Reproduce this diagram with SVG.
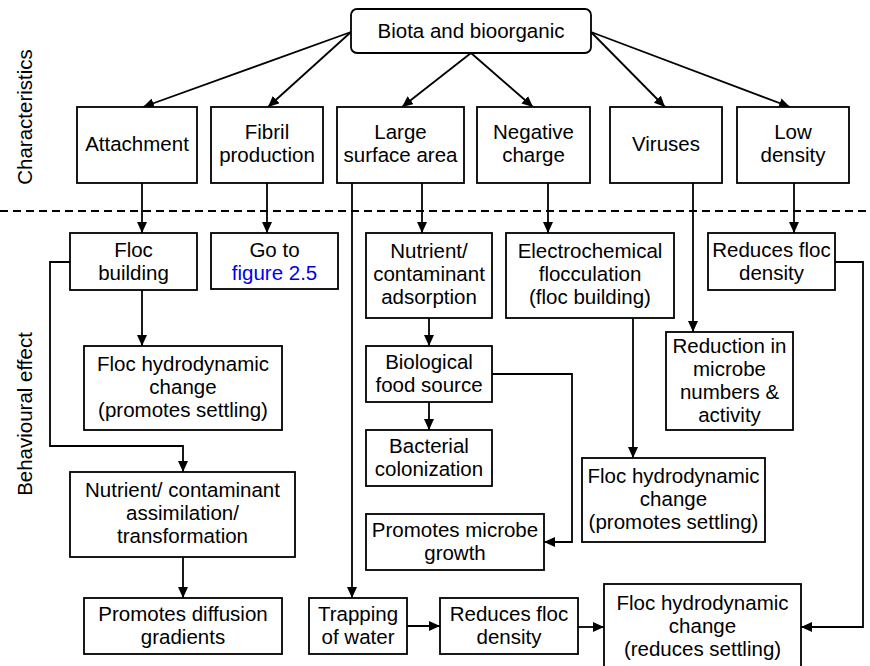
<svg xmlns="http://www.w3.org/2000/svg" width="870" height="666" viewBox="0 0 870 666">
<defs>
<marker id="ah" markerWidth="11" markerHeight="10" refX="11" refY="5" orient="auto" markerUnits="userSpaceOnUse">
<path d="M0,0 L11,5 L0,10 z" fill="#000"/>
</marker>
<style>
rect{fill:#fff;stroke:#000;stroke-width:1.8}
text{font-family:"Liberation Sans",Arial,Helvetica,sans-serif;font-size:20.5px;fill:#000;text-anchor:middle}
.c path{fill:none;stroke:#000;stroke-width:1.8;marker-end:url(#ah)}
.link{fill:#0000ee}
</style>
</defs>
<rect width="870" height="666" style="fill:#fff;stroke:none"/>
<line x1="0" y1="211" x2="870" y2="211" stroke="#000" stroke-width="2" stroke-dasharray="8,5"/>
<text transform="translate(32,117) rotate(-90)">Characteristics</text>
<text transform="translate(32,414) rotate(-90)">Behavioural effect</text>
<g class="c" id="connectors">
<path d="M351,32 L143,107"/>
<path d="M351,32 L268,107"/>
<path d="M471,53 L402,107"/>
<path d="M471,53 L533,107"/>
<path d="M591,32 L665,107"/>
<path d="M591,32 L790,107"/>
<path d="M142,183 V233"/>
<path d="M267,183 V233"/>
<path d="M352,183 V598"/>
<path d="M422,183 V233"/>
<path d="M548,183 V233"/>
<path d="M693,183 V332"/>
<path d="M794,183 V233"/>
<path d="M142,290 V346"/>
<path d="M70,262 H50 V446 H183 V472"/>
<path d="M183,557 V598"/>
<path d="M429,318 V346"/>
<path d="M429,402 V430"/>
<path d="M492,374 H572 V542 H544"/>
<path d="M633,318 V458"/>
<path d="M835,262 H863 V627 H801"/>
<path d="M407,626 H440"/>
<path d="M578,627 H604"/>
</g>
<g id="biota"><rect x="351" y="9" width="240" height="44" rx="6"/><text x="471" y="38">Biota and bioorganic</text></g>
<g id="attachment"><rect x="77" y="107" width="120" height="76"/><text x="137" y="151">Attachment</text></g>
<g id="fibril"><rect x="211" y="107" width="112" height="76"/><text x="267" y="139">Fibril</text><text x="267" y="162">production</text></g>
<g id="large"><rect x="337" y="107" width="127" height="76"/><text x="400.5" y="139">Large</text><text x="400.5" y="162">surface area</text></g>
<g id="negative"><rect x="477" y="107" width="113" height="76"/><text x="533.5" y="139">Negative</text><text x="533.5" y="162">charge</text></g>
<g id="viruses"><rect x="610" y="107" width="112" height="76"/><text x="666" y="151">Viruses</text></g>
<g id="lowdensity"><rect x="737" y="107" width="112" height="76"/><text x="793" y="139">Low</text><text x="793" y="162">density</text></g>
<g id="flocbuilding"><rect x="70" y="233" width="127" height="57"/><text x="133.5" y="257">Floc</text><text x="133.5" y="280">building</text></g>
<g id="goto"><rect x="211" y="233" width="127" height="56"/><text x="274.5" y="257">Go to</text><text x="274.5" y="280" class="link">figure 2.5</text></g>
<g id="adsorption"><rect x="366" y="233" width="126" height="85"/><text x="429" y="258">Nutrient/</text><text x="429" y="281">contaminant</text><text x="429" y="304">adsorption</text></g>
<g id="electro"><rect x="506" y="233" width="168" height="85"/><text x="590" y="258">Electrochemical</text><text x="590" y="281">flocculation</text><text x="590" y="304">(floc building)</text></g>
<g id="reduces1"><rect x="708" y="233" width="127" height="57"/><text x="771.5" y="257">Reduces floc</text><text x="771.5" y="280">density</text></g>
<g id="reduction"><rect x="666" y="332" width="127" height="98"/><text x="729.5" y="352.5">Reduction in</text><text x="729.5" y="375.5">microbe</text><text x="729.5" y="398.5">numbers &amp;</text><text x="729.5" y="421.5">activity</text></g>
<g id="flochydro1"><rect x="84" y="346" width="198" height="84"/><text x="183" y="371">Floc hydrodynamic</text><text x="183" y="394">change</text><text x="183" y="417">(promotes settling)</text></g>
<g id="biological"><rect x="366" y="346" width="126" height="56"/><text x="429" y="369">Biological</text><text x="429" y="392">food source</text></g>
<g id="bacterial"><rect x="366" y="430" width="126" height="56"/><text x="429" y="453">Bacterial</text><text x="429" y="476">colonization</text></g>
<g id="microbegrowth"><rect x="366" y="514" width="178" height="56"/><text x="455" y="537">Promotes microbe</text><text x="455" y="560">growth</text></g>
<g id="flochydro2"><rect x="582" y="458" width="183" height="84"/><text x="673.5" y="483">Floc hydrodynamic</text><text x="673.5" y="506">change</text><text x="673.5" y="529">(promotes settling)</text></g>
<g id="assimilation"><rect x="70" y="472" width="225" height="85"/><text x="182.5" y="497">Nutrient/ contaminant</text><text x="182.5" y="520">assimilation/</text><text x="182.5" y="543">transformation</text></g>
<g id="diffusion"><rect x="84" y="598" width="198" height="56"/><text x="183" y="621">Promotes diffusion</text><text x="183" y="644">gradients</text></g>
<g id="trapping"><rect x="309" y="598" width="98" height="56"/><text x="358" y="621">Trapping</text><text x="358" y="644">of water</text></g>
<g id="reduces2"><rect x="440" y="598" width="138" height="56"/><text x="509" y="621">Reduces floc</text><text x="509" y="644">density</text></g>
<g id="flochydro3"><rect x="604" y="584" width="197" height="90"/><text x="702.5" y="610">Floc hydrodynamic</text><text x="702.5" y="633">change</text><text x="702.5" y="656">(reduces settling)</text></g>
</svg>
